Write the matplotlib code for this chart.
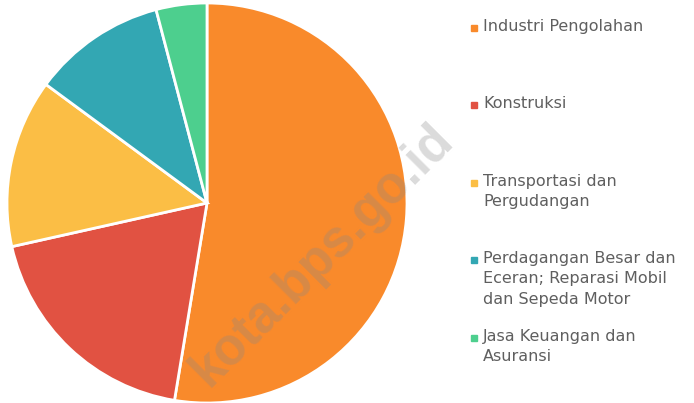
import matplotlib.pyplot as plt
from matplotlib.patches import Rectangle

labels = ['Industri Pengolahan', 'Konstruksi', 'Transportasi dan\nPergudangan',
          'Perdagangan Besar dan\nEceran; Reparasi Mobil\ndan Sepeda Motor',
          'Jasa Keuangan dan\nAsuransi']
values = [52.6, 18.9, 13.6, 10.8, 4.1]
colors = ['#F98A2B', '#E15242', '#FBBE45', '#33A7B3', '#4DCF8E']
# legend label top positions (pixels from top)
label_y = [28, 105, 183, 260, 338]

W, H = 694, 403
fig = plt.figure(figsize=(W / 100, H / 100), dpi=100)
ax = fig.add_axes([(207 - 200) / W, (H - 203 - 200) / H, 400 / W, 400 / H])
ax.pie(values, colors=colors, startangle=90, counterclock=False,
       wedgeprops=dict(edgecolor='white', linewidth=2))
ax.set_xlim(-1, 1)
ax.set_ylim(-1, 1)
ax.set_aspect('equal')

for lab, c, y in zip(labels, colors, label_y):
    fig.patches.append(Rectangle((471 / W, 1 - (y + 3) / H), 6 / W, 6 / H,
                                 transform=fig.transFigure, color=c))
    fig.text(483 / W, 1 - (y - 9) / H, lab, fontsize=11.5, color='#5f5f5f',
             family='DejaVu Sans', va='top', ha='left', linespacing=1.45)

# watermark
fig.text(322 / W, 1 - 256 / H, 'kota.bps.go.id', fontsize=37, fontweight='bold',
         color='#888888', alpha=0.3, rotation=45, ha='center', va='center',
         family='Liberation Sans')

fig.savefig('out.png', dpi=100)
